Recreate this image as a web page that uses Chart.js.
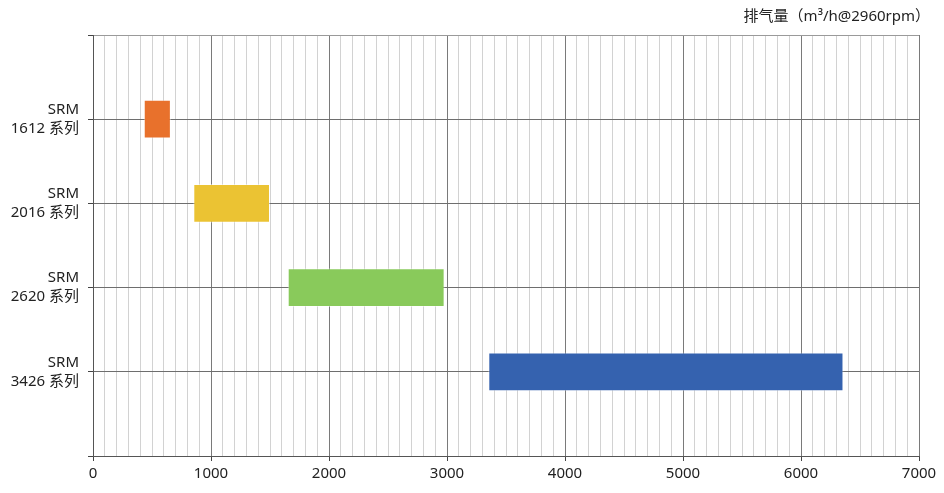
<!DOCTYPE html>
<html>
<head>
<meta charset="utf-8">
<script src="https://cdn.jsdelivr.net/npm/chart.js@4/dist/chart.umd.min.js"></script>
<style>
html,body{margin:0;padding:0;background:#fff;}
#wrap{width:944px;height:493px;position:relative;}
</style>
</head>
<body>
<div id="wrap"><canvas id="c" width="944" height="493"></canvas></div>
<script>
// ---- data ----
const seriesNames = ['1612', '2016', '2620', '3426'];
const startValues = [430, 850, 1650, 3350];
const endValues   = [660, 1500, 2980, 6360];
const barColors   = ['#E8712C', '#EBC333', '#89CA5B', '#3562AF'];
const xTickMax = 7000;
const xMajorStep = 1000;
const xMinorStep = 100;
const titleText = '排气量（m³/h@2960rpm）';

// categories: empty slot at top and bottom so grid lines frame the chart
const categories = [''].concat(seriesNames.map(n => ['SRM', n + ' 系列'])).concat(['']);
const floatData = [null].concat(seriesNames.map((n, i) => [startValues[i], endValues[i]])).concat([null]);
const colors = ['transparent'].concat(barColors).concat(['transparent']);

const FONT = "'Noto Sans', 'Noto Sans CJK SC', sans-serif";

const titlePlugin = {
  id: 'cornerTitle',
  afterDraw(chart) {
    const ctx = chart.ctx;
    ctx.save();
    ctx.font = '15px ' + FONT;
    ctx.fillStyle = '#222';
    ctx.textAlign = 'right';
    ctx.textBaseline = 'middle';
    ctx.fillText(titleText, chart.chartArea.right + 11, 17);
    ctx.restore();
  }
};

new Chart(document.getElementById('c'), {
  type: 'bar',
  data: {
    labels: categories,
    datasets: [{
      data: floatData,
      backgroundColor: colors,
      borderColor: 'rgba(255,255,255,0.45)',
      borderWidth: 1,
      borderSkipped: false,
      categoryPercentage: 1,
      barPercentage: 0.46
    }]
  },
  options: {
    indexAxis: 'y',
    responsive: false,
    animation: false,
    layout: { padding: { top: 35, right: 25, bottom: 0, left: 0 } },
    plugins: {
      legend: { display: false },
      tooltip: { enabled: false },
      title: { display: false }
    },
    scales: {
      x: {
        type: 'linear',
        min: 0,
        max: xTickMax,
        afterFit(scale) { scale.height = 37; },
        afterBuildTicks(scale) {
          const t = [];
          for (let v = 0; v <= xTickMax; v += xMinorStep) t.push({ value: v });
          scale.ticks = t;
        },
        ticks: {
          autoSkip: false,
          maxRotation: 0,
          padding: 4,
          color: '#222',
          font: { family: FONT, size: 15 },
          callback: (v) => (v % xMajorStep === 0 ? String(v) : '')
        },
        grid: {
          drawTicks: true,
          tickLength: 5,
          lineWidth: 1,
          color: (c) => (c.tick && c.tick.value % xMajorStep === 0 ? '#7a7a7a' : '#d2d2d2'),
          tickColor: (c) => (c.tick && c.tick.value % xMajorStep === 0 ? '#444' : 'rgba(0,0,0,0)')
        },
        border: { display: true, color: '#555', width: 1 }
      },
      y: {
        type: 'category',
        offset: false,
        afterFit(scale) { scale.width = 93; },
        ticks: {
          autoSkip: false,
          padding: 9,
          color: '#222',
          font: { family: FONT, size: 15, lineHeight: 1.27 }
        },
        grid: {
          offset: false,
          drawTicks: true,
          tickLength: 5,
          lineWidth: 1,
          color: (c) => (c.index === 0 ? '#9a9a9a' : '#6e6e6e'),
          tickColor: '#444'
        },
        border: { display: true, color: '#555', width: 1 }
      }
    }
  },
  plugins: [titlePlugin]
});
</script>
</body>
</html>
